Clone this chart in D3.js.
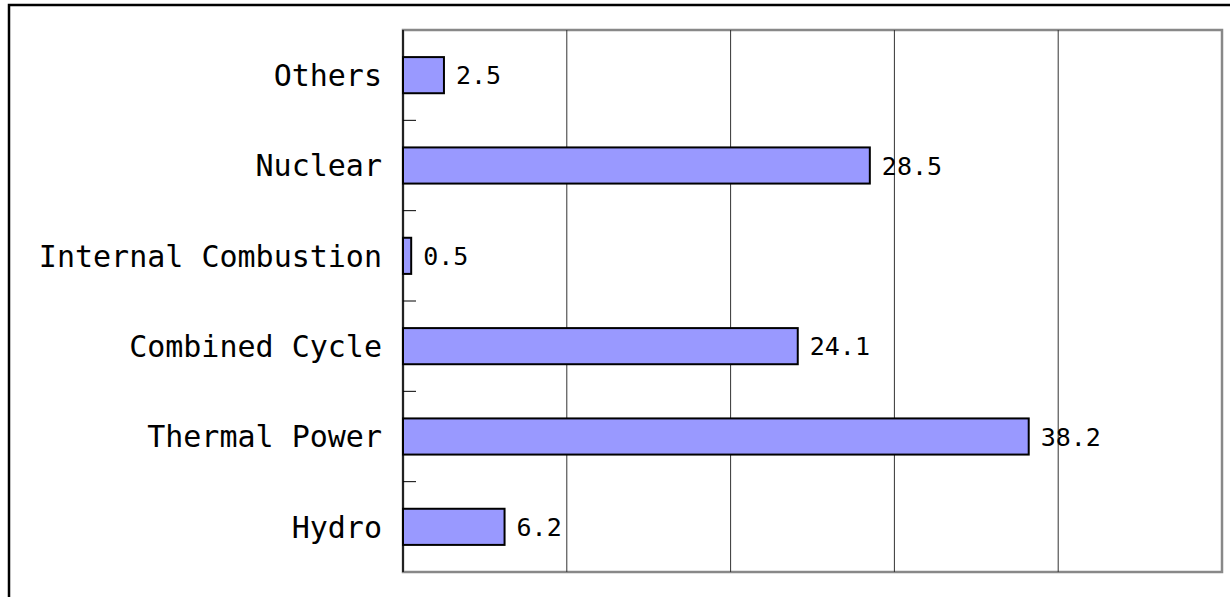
<!DOCTYPE html>
<html>
<head>
<meta charset="utf-8">
<script src="https://cdn.jsdelivr.net/npm/d3@7"></script>
<style>
  body { margin: 0; background: #fff; }
  svg { display: block; }
</style>
</head>
<body>
<script>
const categories = ["Others", "Nuclear", "Internal Combustion", "Combined Cycle", "Thermal Power", "Hydro"];
const values = [2.5, 28.5, 0.5, 24.1, 38.2, 6.2];
const gridTicks = [0, 10, 20, 30, 40, 50];

const width = 1230, height = 597;
const plot = { left: 403, top: 30, right: 1222, bottom: 572 };

const svg = d3.select("body").append("svg")
    .attr("width", width)
    .attr("height", height);

// outer frame
svg.append("rect")
    .attr("x", 9).attr("y", 5)
    .attr("width", width).attr("height", height)
    .attr("fill", "none")
    .attr("stroke", "#000")
    .attr("stroke-width", 2.5);

const x = d3.scaleLinear().domain([0, 50]).range([plot.left, plot.right]);
const y = d3.scaleBand().domain(categories).range([plot.top, plot.bottom]).paddingInner(0.6).paddingOuter(0.3);
const band = d3.scaleBand().domain(categories).range([plot.top, plot.bottom]);

// plot box
svg.append("rect")
    .attr("x", plot.left).attr("y", plot.top)
    .attr("width", plot.right - plot.left).attr("height", plot.bottom - plot.top)
    .attr("fill", "#fff")
    .attr("stroke", "#888")
    .attr("stroke-width", 2.5);

// gridlines
svg.append("g")
    .selectAll("line")
    .data(gridTicks.slice(1, -1))
    .enter()
    .append("line")
    .attr("x1", d => x(d)).attr("x2", d => x(d))
    .attr("y1", plot.top).attr("y2", plot.bottom)
    .attr("stroke", "#333")
    .attr("stroke-width", 1);

// category axis line and tick marks between categories
svg.append("line")
    .attr("x1", plot.left).attr("x2", plot.left)
    .attr("y1", plot.top).attr("y2", plot.bottom)
    .attr("stroke", "#000")
    .attr("stroke-width", 1.5);

svg.append("g")
    .selectAll("line")
    .data(categories.slice(1))
    .enter()
    .append("line")
    .attr("x1", plot.left).attr("x2", plot.left + 13)
    .attr("y1", d => band(d)).attr("y2", d => band(d))
    .attr("stroke", "#000")
    .attr("stroke-width", 1);

// bars
svg.append("g")
    .selectAll("rect")
    .data(values)
    .enter()
    .append("rect")
    .attr("x", x(0))
    .attr("y", (d, i) => y(categories[i]))
    .attr("width", d => x(d) - x(0))
    .attr("height", y.bandwidth())
    .attr("fill", "#9999ff")
    .attr("stroke", "#000")
    .attr("stroke-width", 2);

// category labels
svg.append("g")
    .selectAll("text")
    .data(categories)
    .enter()
    .append("text")
    .attr("x", 382)
    .attr("y", d => band(d) + band.bandwidth() / 2)
    .attr("dy", "0.36em")
    .attr("text-anchor", "end")
    .style("font-family", "'DejaVu Sans Mono', monospace")
    .style("font-size", "30px")
    .text(d => d);

// value labels
svg.append("g")
    .selectAll("text")
    .data(values)
    .enter()
    .append("text")
    .attr("x", d => x(d) + 12)
    .attr("y", (d, i) => band(categories[i]) + band.bandwidth() / 2)
    .attr("dy", "0.36em")
    .style("font-family", "'DejaVu Sans Mono', monospace")
    .style("font-size", "25px")
    .text(d => d.toFixed(1));
</script>
</body>
</html>
